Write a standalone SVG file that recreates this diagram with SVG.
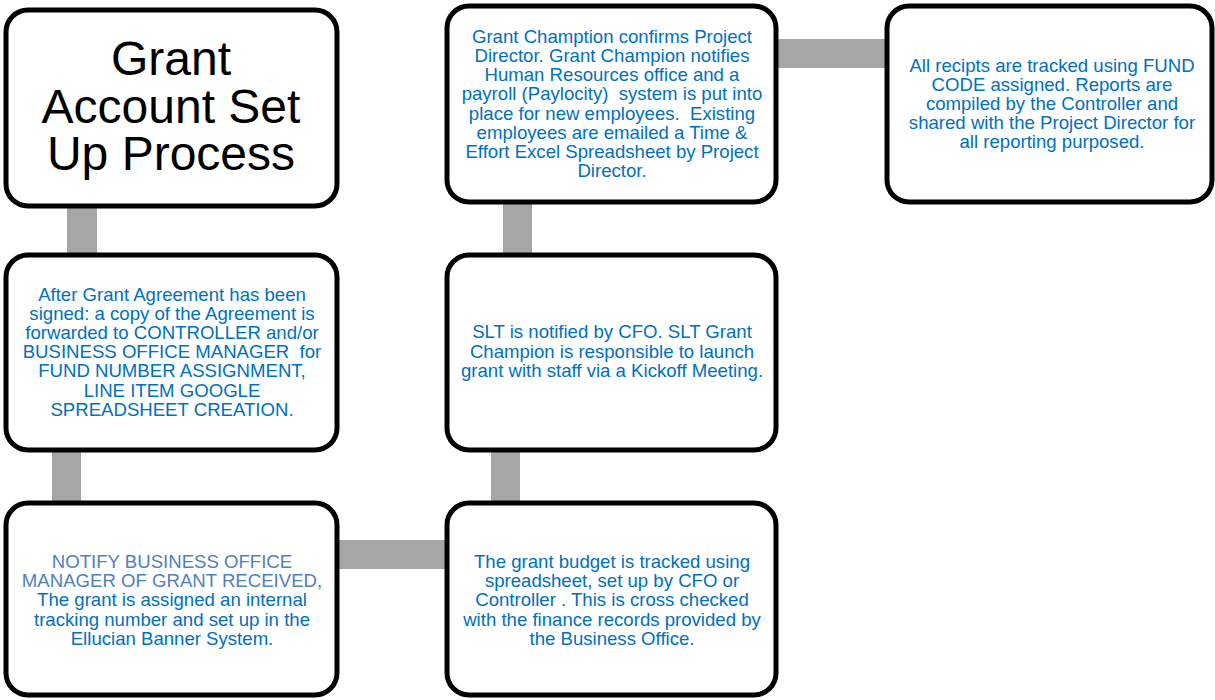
<svg xmlns="http://www.w3.org/2000/svg" width="1215" height="700" viewBox="0 0 1215 700">
<style>
.box{fill:#fff;stroke:#000;stroke-width:5}
.conn{fill:#a6a6a6}
.t{font-family:"Liberation Sans",Arial,sans-serif;font-size:18.6px;fill:#0070c0;text-anchor:middle}
.l{fill:#4f81bd}
.title{font-family:"Liberation Sans",Arial,sans-serif;font-size:48px;fill:#000;text-anchor:middle}
</style>
<rect width="1215" height="700" fill="#fff"/>
<g id="connectors">
<rect class="conn" x="67" y="206" width="30" height="50"/>
<rect class="conn" x="52" y="450" width="29" height="54"/>
<rect class="conn" x="336" y="540" width="112" height="29"/>
<rect class="conn" x="491" y="450" width="29" height="54"/>
<rect class="conn" x="503" y="202" width="29" height="54"/>
<rect class="conn" x="776" y="39" width="112" height="29"/>
</g>
<g id="node-title">
<rect class="box" x="6" y="10" width="331" height="196" rx="22"/>
<text class="title"><tspan x="171" y="75">Grant</tspan><tspan x="171" y="123">Account Set</tspan><tspan x="171" y="170">Up Process</tspan></text>
</g>
<g id="node-agreement">
<rect class="box" x="6" y="255" width="331" height="195" rx="22"/>
<text class="t" x="172" y="301">After Grant Agreement has been</text>
<text class="t" x="172" y="320">signed: a copy of the Agreement is</text>
<text class="t" x="172" y="339">forwarded to CONTROLLER and/or</text>
<text class="t" x="172" y="358" xml:space="preserve">BUSINESS OFFICE MANAGER  for</text>
<text class="t" x="172" y="377">FUND NUMBER ASSIGNMENT,</text>
<text class="t" x="172" y="397">LINE ITEM GOOGLE</text>
<text class="t" x="172" y="416">SPREADSHEET CREATION.</text>
</g>
<g id="node-notify">
<rect class="box" x="6" y="503" width="331" height="192" rx="22"/>
<text class="t l" x="172" y="568">NOTIFY BUSINESS OFFICE</text>
<text class="t l" x="172" y="587">MANAGER OF GRANT RECEIVED,</text>
<text class="t" x="172" y="606">The grant is assigned an internal</text>
<text class="t" x="172" y="626">tracking number and set up in the</text>
<text class="t" x="172" y="645">Ellucian Banner System.</text>
</g>
<g id="node-budget">
<rect class="box" x="447" y="503" width="329" height="192" rx="22"/>
<text class="t" x="612" y="568">The grant budget is tracked using</text>
<text class="t" x="612" y="587">spreadsheet, set up by CFO or</text>
<text class="t" x="612" y="606">Controller . This is cross checked</text>
<text class="t" x="612" y="626">with the finance records provided by</text>
<text class="t" x="612" y="645">the Business Office.</text>
</g>
<g id="node-slt">
<rect class="box" x="447" y="255" width="329" height="195" rx="22"/>
<text class="t" x="612" y="338">SLT is notified by CFO. SLT Grant</text>
<text class="t" x="612" y="358">Champion is responsible to launch</text>
<text class="t" x="612" y="377">grant with staff via a Kickoff Meeting.</text>
</g>
<g id="node-champion">
<rect class="box" x="447" y="6" width="329" height="196" rx="22"/>
<text class="t" x="612" y="43">Grant Chamption confirms Project</text>
<text class="t" x="612" y="62">Director. Grant Champion notifies</text>
<text class="t" x="612" y="81">Human Resources office and a</text>
<text class="t" x="612" y="100" xml:space="preserve">payroll (Paylocity)  system is put into</text>
<text class="t" x="612" y="120" xml:space="preserve">place for new employees.  Existing</text>
<text class="t" x="612" y="139">employees are emailed a Time &amp;</text>
<text class="t" x="612" y="158">Effort Excel Spreadsheet by Project</text>
<text class="t" x="612" y="177">Director.</text>
</g>
<g id="node-reports">
<rect class="box" x="887" y="6" width="325" height="196" rx="22"/>
<text class="t" x="1052" y="72">All recipts are tracked using FUND</text>
<text class="t" x="1052" y="91">CODE assigned. Reports are</text>
<text class="t" x="1052" y="110">compiled by the Controller and</text>
<text class="t" x="1052" y="129">shared with the Project Director for</text>
<text class="t" x="1052" y="148">all reporting purposed.</text>
</g>
</svg>
